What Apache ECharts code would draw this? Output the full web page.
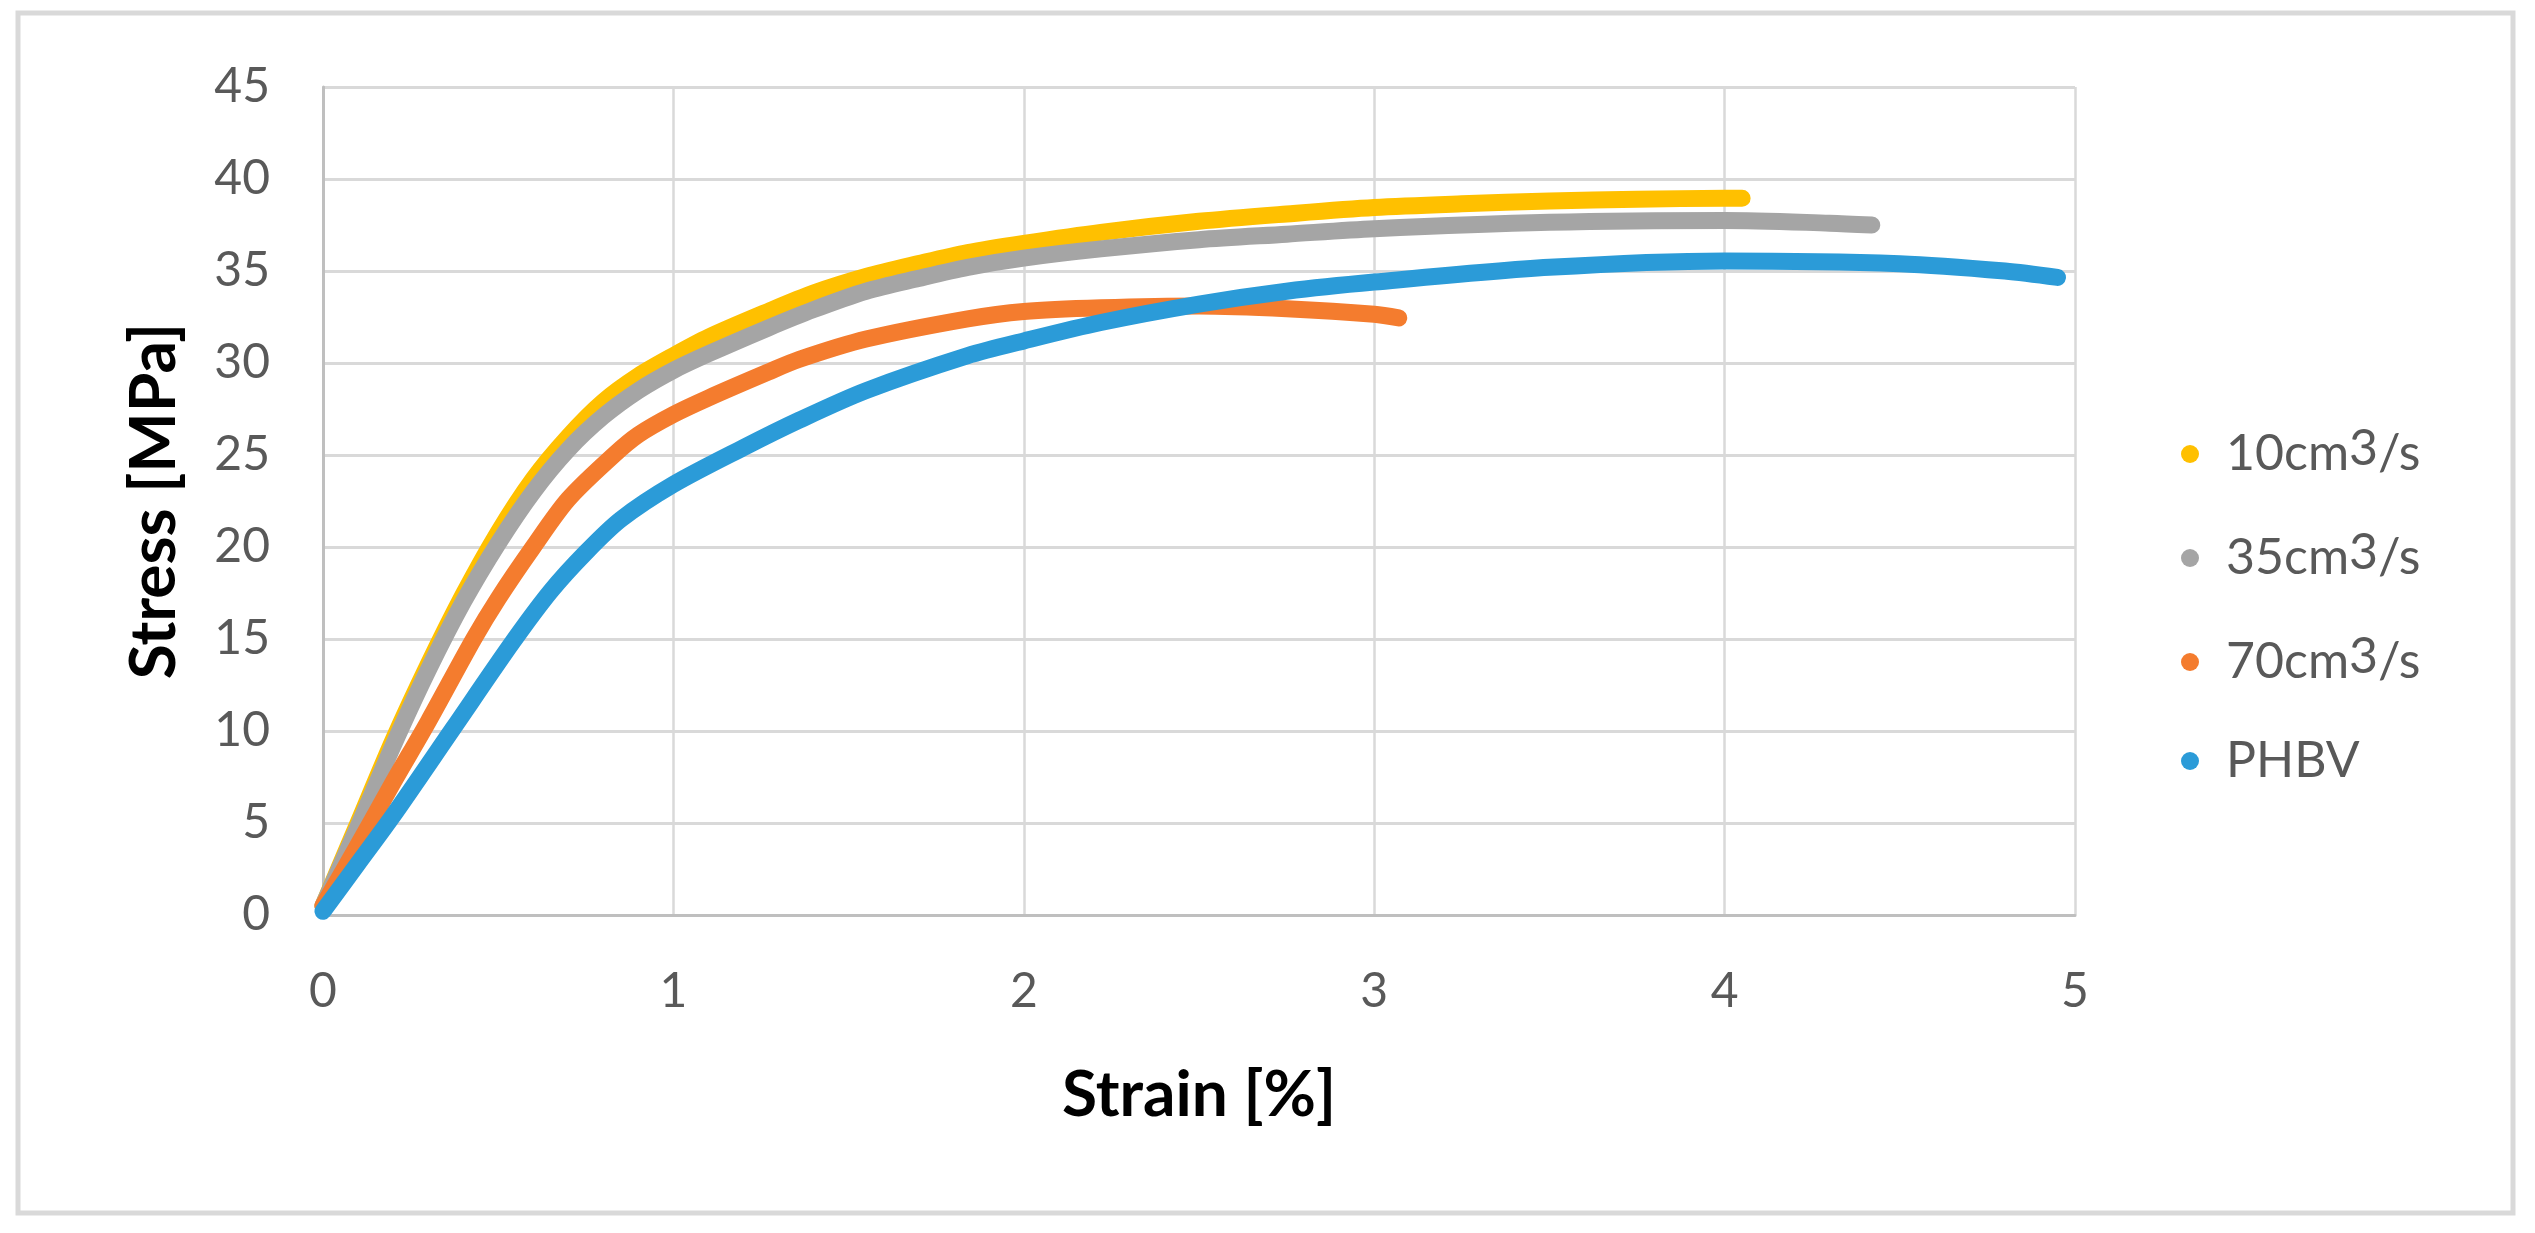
<!DOCTYPE html>
<html>
<head>
<meta charset="utf-8">
<script src="https://cdn.jsdelivr.net/npm/echarts@6/dist/echarts.min.js"></script>
<style>
html,body{margin:0;padding:0;background:#fff;}
#chart{width:2535px;height:1233px;}
</style>
</head>
<body>
<div id="chart"></div>
<script>
// ---- Data ----
var seriesNames = ['10cm³/s', '35cm³/s', '70cm³/s', 'PHBV'];

var strain10 = [0, 0.1, 0.2, 0.3, 0.4, 0.5, 0.6, 0.7, 0.8, 0.9, 1.0, 1.1, 1.27, 1.4, 1.55, 1.7, 1.84, 2.0, 2.22, 2.5, 2.75, 3.0, 3.25, 3.5, 3.75, 4.0, 4.05];
var stress10 = [0.5, 5.0, 9.5, 13.6, 17.4, 20.8, 23.7, 26.0, 27.9, 29.3, 30.4, 31.4, 32.8, 33.8, 34.7, 35.4, 36.0, 36.5, 37.1, 37.7, 38.1, 38.45, 38.65, 38.8, 38.9, 38.95, 38.95];

var strain35 = [0, 0.1, 0.2, 0.3, 0.4, 0.5, 0.6, 0.7, 0.8, 0.9, 1.0, 1.1, 1.27, 1.4, 1.55, 1.7, 1.84, 2.0, 2.22, 2.5, 2.75, 3.0, 3.5, 4.0, 4.3, 4.42];
var stress35 = [0.5, 4.8, 9.2, 13.3, 17.0, 20.2, 23.0, 25.3, 27.1, 28.5, 29.6, 30.5, 31.9, 32.9, 33.9, 34.6, 35.2, 35.7, 36.2, 36.7, 37.0, 37.3, 37.65, 37.75, 37.6, 37.5];

var strain70 = [0, 0.1, 0.2, 0.3, 0.43, 0.5, 0.6, 0.7, 0.83, 0.9, 1.0, 1.1, 1.27, 1.36, 1.55, 1.84, 2.0, 2.22, 2.5, 2.75, 3.0, 3.07];
var stress70 = [0.5, 3.8, 7.2, 10.5, 15.0, 17.2, 20.0, 22.6, 25.0, 26.1, 27.2, 28.1, 29.5, 30.2, 31.3, 32.4, 32.8, 33.0, 33.1, 32.95, 32.65, 32.45];

var strainPHBV = [0, 0.1, 0.2, 0.37, 0.54, 0.65, 0.75, 0.85, 1.0, 1.2, 1.36, 1.55, 1.84, 2.0, 2.22, 2.5, 2.75, 3.0, 3.5, 4.0, 4.5, 4.8, 4.95];
var stressPHBV = [0.2, 2.8, 5.4, 10.1, 14.8, 17.6, 19.7, 21.5, 23.4, 25.4, 26.9, 28.5, 30.4, 31.2, 32.2, 33.2, 33.9, 34.4, 35.2, 35.55, 35.4, 35.0, 34.65];

var xTicks = [0, 1, 2, 3, 4, 5];
var yTicks = [0, 5, 10, 15, 20, 25, 30, 35, 40, 45];

var colors = ['#FFC000', '#A5A5A5', '#F47C2E', '#2B9BD8'];

function zip(xs, ys) { return xs.map(function (x, i) { return [x, ys[i]]; }); }
var allData = [zip(strain10, stress10), zip(strain35, stress35), zip(strain70, stress70), zip(strainPHBV, stressPHBV)];

var chart = echarts.init(document.getElementById('chart'), null, {renderer: 'canvas'});

var FONT = 'Lato';

var option = {
  animation: false,
  backgroundColor: '#ffffff',
  color: colors,
  graphic: [{
    type: 'rect',
    shape: {x: 18, y: 13, width: 2495, height: 1200},
    style: {fill: 'none', stroke: '#d9d9d9', lineWidth: 5},
    silent: true,
    z: 0
  }],
  grid: {left: 323, right: 460, top: 87, bottom: 318, containLabel: false},
  xAxis: {
    type: 'value',
    min: xTicks[0], max: xTicks[xTicks.length - 1], interval: 1,
    name: 'Strain [%]',
    nameLocation: 'middle',
    nameGap: 148,
    nameTextStyle: {fontFamily: FONT, fontWeight: 'bold', fontSize: 64, lineHeight: 64, color: '#000'},
    axisLine: {show: true, onZero: false, lineStyle: {color: '#bfbfbf', width: 3}},
    axisTick: {show: false},
    axisLabel: {fontFamily: FONT, fontSize: 48, lineHeight: 48, color: '#595959', margin: 53},
    splitLine: {show: true, lineStyle: {color: '#d9d9d9', width: 2.5}}
  },
  yAxis: {
    type: 'value',
    min: yTicks[0], max: yTicks[yTicks.length - 1], interval: 5,
    name: 'Stress [MPa]',
    nameLocation: 'middle',
    nameGap: 137,
    nameTextStyle: {fontFamily: FONT, fontWeight: 'bold', fontSize: 64, lineHeight: 64, color: '#000'},
    axisLine: {show: true, onZero: false, lineStyle: {color: '#bfbfbf', width: 3}},
    axisTick: {show: false},
    axisLabel: {fontFamily: FONT, fontSize: 48, color: '#595959', margin: 53},
    splitLine: {show: true, lineStyle: {color: '#d9d9d9', width: 3}}
  },
  legend: {
    orient: 'vertical',
    left: 2176,
    top: 419,
    icon: 'circle',
    itemWidth: 62,
    itemHeight: 18,
    itemGap: 49,
    data: seriesNames,
    formatter: function (name) {
      var m = name.match(/^(.*)³(.*)$/);
      if (m) return '{a|' + m[1] + '}{s|3}{a|' + m[2] + '}';
      return '{a|' + name + '}';
    },
    textStyle: {
      fontFamily: FONT, fontSize: 50, color: '#595959',
      rich: {
        a: {fontFamily: FONT, fontSize: 50, lineHeight: 60, color: '#595959'},
        s: {fontFamily: FONT, fontSize: 50, lineHeight: 28, verticalAlign: 'top', color: '#595959'}
      }
    }
  },
  series: seriesNames.map(function (n, i) {
    return {
      name: n,
      type: 'line',
      data: allData[i],
      showSymbol: false,
      symbol: 'circle',
      smooth: 0.3,
      lineStyle: {width: 17, color: colors[i], cap: 'round', join: 'round'},
      itemStyle: {color: colors[i]},
      z: 2 + i
    };
  })
};

chart.setOption(option);
</script>
</body>
</html>
